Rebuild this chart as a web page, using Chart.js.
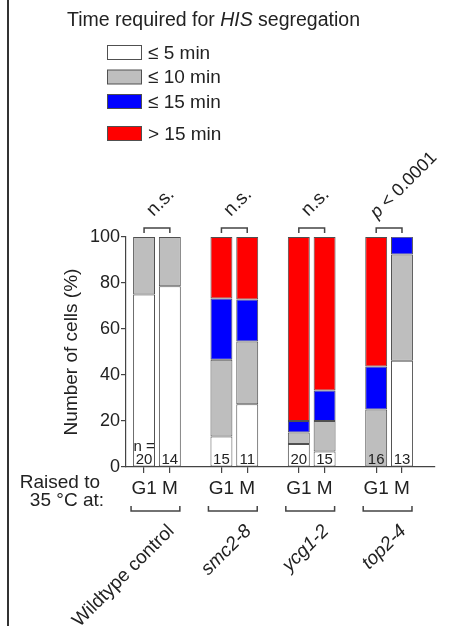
<!DOCTYPE html>
<html><head><meta charset="utf-8">
<script src="https://cdn.jsdelivr.net/npm/chart.js@4"></script>
<style>html,body{margin:0;padding:0;background:#fff;}#wrap{width:450px;height:626px;position:relative;}</style>
</head><body><div id="wrap"><canvas id="c"></canvas></div>
<script>
// ---- data ----
const groups = ['Wildtype control', 'smc2-8', 'ycg1-2', 'top2-4'];
const groupItalic = [false, true, true, true];
const barLabels = ['G1', 'M', 'G1', 'M', 'G1', 'M', 'G1', 'M'];
const cellCounts = [20, 14, 15, 11, 20, 15, 16, 13];
const le5 = [75, 78.6, 13.3, 27.3, 10, 6.7, 0, 46.2];
const le10 = [25, 21.4, 33.3, 27.3, 5, 13.3, 25, 46.2];
const le15 = [0, 0, 26.7, 18.2, 5, 13.3, 18.75, 7.7];
const gt15 = [0, 0, 26.7, 27.2, 80, 66.7, 56.25, 0];
const seriesNames = ['≤ 5 min', '≤ 10 min', '≤ 15 min', '> 15 min'];
const significance = ['n.s.', 'n.s.', 'n.s.', 'p < 0.0001'];
const yTicks = [0, 20, 40, 60, 80, 100];

// ---- styling ----
const FONT = "'Liberation Sans', Arial, Helvetica, sans-serif";
const TXT = '#222';
const LINE = '#444';
const colors = ['#ffffff', '#bebebe', '#0000ff', '#ff0000'];
const series = [le5, le10, le15, gt15];
const xPos = i => Math.floor(i / 2) * 3 + (i % 2);

const datasets = series.map((vals, k) => ({
  label: seriesNames[k],
  data: vals.map((v, i) => ({ x: xPos(i), y: v === 0 ? null : v })),
  backgroundColor: colors[k],
  borderColor: '#505050',
  borderWidth: 1,
  borderSkipped: false,
  grouped: false,
  barPercentage: 0.85,
  categoryPercentage: 1
}));

const overlay = {
  id: 'overlay',
  afterDraw(chart) {
    const { ctx, scales: { x, y } } = chart;
    ctx.save();
    // left frame line
    ctx.fillStyle = '#333';
    ctx.fillRect(7, 0, 2, 626);

    // legend title
    ctx.fillStyle = TXT;
    ctx.textBaseline = 'alphabetic';
    ctx.textAlign = 'left';
    let tx = 67;
    const parts = [['Time required for ', false], ['HIS', true], [' segregation', false]];
    parts.forEach(([t, it]) => {
      ctx.font = (it ? 'italic ' : '') + '19.5px ' + FONT;
      ctx.fillText(t, tx, 26);
      tx += ctx.measureText(t).width;
    });
    // legend items
    const ly = [52.5, 77, 101.5, 133.5];
    seriesNames.forEach((n, k) => {
      ctx.fillStyle = colors[k];
      ctx.fillRect(107.5, ly[k] - 7, 34, 14);
      ctx.strokeStyle = '#505050';
      ctx.lineWidth = 1;
      ctx.strokeRect(107.5, ly[k] - 7, 34, 14);
      ctx.fillStyle = TXT;
      ctx.font = '19px ' + FONT;
      ctx.textBaseline = 'middle';
      ctx.fillText(n, 148, ly[k] + 1);
    });

    // brackets + significance above pairs
    ctx.strokeStyle = LINE;
    ctx.lineWidth = 1.5;
    groups.forEach((g, gi) => {
      const a = x.getPixelForValue(xPos(gi * 2));
      const b = x.getPixelForValue(xPos(gi * 2 + 1));
      const top = y.getPixelForValue(100) - 9;
      ctx.beginPath();
      ctx.moveTo(a, top + 5); ctx.lineTo(a, top); ctx.lineTo(b, top); ctx.lineTo(b, top + 5);
      ctx.stroke();
      const c = (a + b) / 2;
      const s = significance[gi];
      ctx.save();
      ctx.fillStyle = TXT;
      ctx.textAlign = 'left';
      ctx.textBaseline = 'alphabetic';
      if (s.startsWith('p')) {
        ctx.translate(c - 12, top - 9);
        ctx.rotate(-Math.PI / 4);
        ctx.font = 'italic 18px ' + FONT;
        ctx.fillText('p', 0, 0);
        const w = ctx.measureText('p').width;
        ctx.font = '18px ' + FONT;
        ctx.fillText(s.slice(1), w, 0);
      } else {
        ctx.translate(c - 3.5, top - 11);
        ctx.rotate(-Math.PI / 4);
        ctx.font = '19px ' + FONT;
        ctx.fillText(s, 0, 0);
      }
      ctx.restore();

      // group bracket below
      const by = 511;
      ctx.beginPath();
      ctx.moveTo(a - 13, by - 5); ctx.lineTo(a - 13, by); ctx.lineTo(b + 10, by); ctx.lineTo(b + 10, by - 5);
      ctx.stroke();
      // group name rotated
      ctx.save();
      ctx.translate(c + 18, 532);
      ctx.rotate(-Math.PI / 4);
      ctx.textAlign = 'right';
      ctx.textBaseline = 'alphabetic';
      ctx.fillStyle = TXT;
      ctx.font = (groupItalic[gi] ? 'italic ' : '') + '19px ' + FONT;
      ctx.fillText(g, 0, 0);
      ctx.restore();
    });

    // cell counts
    ctx.fillStyle = TXT;
    ctx.textAlign = 'center';
    ctx.textBaseline = 'alphabetic';
    ctx.font = '15px ' + FONT;
    const y0 = y.getPixelForValue(0);
    cellCounts.forEach((n, i) => {
      const px = x.getPixelForValue(xPos(i));
      ctx.fillText(String(n), px, y0 - 3);
    });
    ctx.fillText('n =', x.getPixelForValue(xPos(0)), y0 - 16);

    // Raised to 35 °C at:
    ctx.font = '19px ' + FONT;
    ctx.textAlign = 'right';
    ctx.fillText('Raised to', 100, 488);
    ctx.fillText('35 °C at:', 104, 506);
    ctx.restore();
  }
};

new Chart(document.getElementById('c'), {
  type: 'bar',
  data: { datasets },
  options: {
    responsive: true,
    maintainAspectRatio: false,
    animation: false,
    events: [],
    layout: { padding: { top: 237, right: 15, bottom: 0, left: 0 } },
    plugins: { legend: { display: false }, tooltip: { enabled: false } },
    scales: {
      x: {
        type: 'linear',
        offset: false,
        min: -0.70, max: 11.28,
        afterBuildTicks: s => { s.ticks = cellCounts.map((_, i) => ({ value: xPos(i) })); },
        ticks: {
          autoSkip: false, maxRotation: 0, minRotation: 0,
          callback: (v, i) => barLabels[i],
          font: { family: FONT, size: 19 }, color: TXT, padding: 4
        },
        grid: { offset: false, drawOnChartArea: false, drawTicks: true, tickLength: 6, color: LINE, lineWidth: 1.2 },
        border: { display: true, color: LINE, width: 1.2 },
        afterFit: s => { s.height = 626 - 467; }
      },
      y: {
        stacked: true,
        min: 0, max: 100,
        afterBuildTicks: s => { s.ticks = yTicks.map(v => ({ value: v })); },
        ticks: { font: { family: FONT, size: 18 }, color: TXT, padding: 1 },
        grid: { drawOnChartArea: false, drawTicks: true, tickLength: 5, color: LINE, lineWidth: 1.2 },
        border: { display: true, color: LINE, width: 1.2 },
        title: { display: true, text: 'Number of cells (%)', font: { family: FONT, size: 19 }, color: TXT, padding: { top: 60, bottom: 0 } },
        afterFit: s => { s.width = 126; }
      }
    }
  },
  plugins: [overlay]
});
</script>
</body></html>
